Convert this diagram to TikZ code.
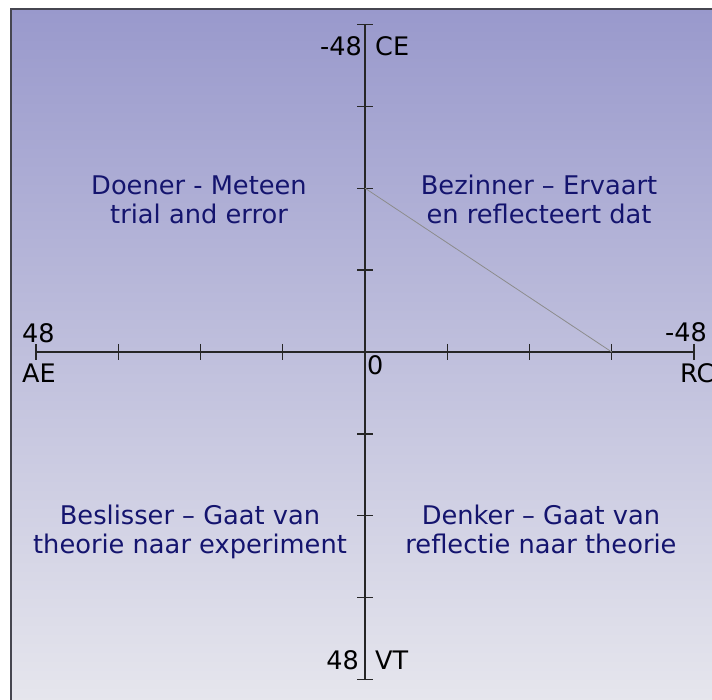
\documentclass[tikz,border=0pt]{standalone}
\usepackage{fontspec}
\setmainfont{DejaVu Sans}
\definecolor{bgtop}{RGB}{153,153,204}
\definecolor{bgbot}{RGB}{232,232,238}
\definecolor{navy}{RGB}{20,20,110}
\definecolor{framec}{RGB}{70,70,80}
\begin{document}
\begin{tikzpicture}[x=1pt,y=-1pt,
  quad/.style={anchor=base,inner sep=0pt,text=navy,font=\fontsize{25.7}{26}\selectfont},
  axlab/.style={inner sep=0pt,text=black,font=\fontsize{25.5}{26}\selectfont},
  axisline/.style={draw=black!85,line width=1.2pt},
  tickmark/.style={draw=black!85,line width=1.2pt},
  diag/.style={draw=black!45,line width=0.8pt}]
\useasboundingbox (0,0) rectangle (712,700);
\clip (0,0) rectangle (712,700);
\shade[top color=bgtop,bottom color=bgbot] (11,9) rectangle (730,720);
\draw[framec,line width=2pt] (11,730) -- (11,9) -- (730,9);
% axes
\coordinate (O) at (365,352);
\coordinate (T) at (365,25);
\coordinate (B) at (365,680);
\coordinate (L) at (36,352);
\coordinate (R) at (694,352);
\draw[axisline] (T) -- (B);
\draw[axisline] (L) -- (R);
\foreach \i in {-4,-3,-2,-1,1,2,3,4}{
  \draw[tickmark] ([xshift=\i*82.25pt]O) ++(0,-8) -- ++(0,16);
  \draw[tickmark] ([yshift=-\i*81.9pt]O) ++(-8,0) -- ++(16,0);
}
\coordinate (P) at (365,188.2);
\coordinate (Q) at (611.75,352);
\draw[diag] (P) -- (Q);
% axis labels
\node[axlab,anchor=base east] (ltop) at (362,56) {-48};
\node[axlab,anchor=base west] (lce) at (375,56) {CE};
\node[axlab,anchor=base west] (lleft) at (22,343) {48};
\node[axlab,anchor=base west] (lae) at (22,383) {AE};
\node[axlab,anchor=base west] (lright) at (665,342) {-48};
\node[axlab,anchor=base west] (lrc) at (680,383) {RC};
\node[axlab,anchor=base west] (lzero) at (367,375) {0};
\node[axlab,anchor=base east] (lbot) at (359,669) {48};
\node[axlab,anchor=base west] (lvt) at (375,669) {VT};
% quadrant texts
\node[quad] (q1a) at (199,195) {Doener - Meteen};
\node[quad] (q1b) at (199,224) {trial and error};
\node[quad] (q2a) at (539,195) {Bezinner – Ervaart};
\node[quad] (q2b) at (539,224) {en reflecteert dat};
\node[quad] (q3a) at (190,524) {Beslisser – Gaat van};
\node[quad] (q3b) at (190,553) {theorie naar experiment};
\node[quad] (q4a) at (541,524) {Denker – Gaat van};
\node[quad] (q4b) at (541,553) {reflectie naar theorie};
\end{tikzpicture}
\end{document}
